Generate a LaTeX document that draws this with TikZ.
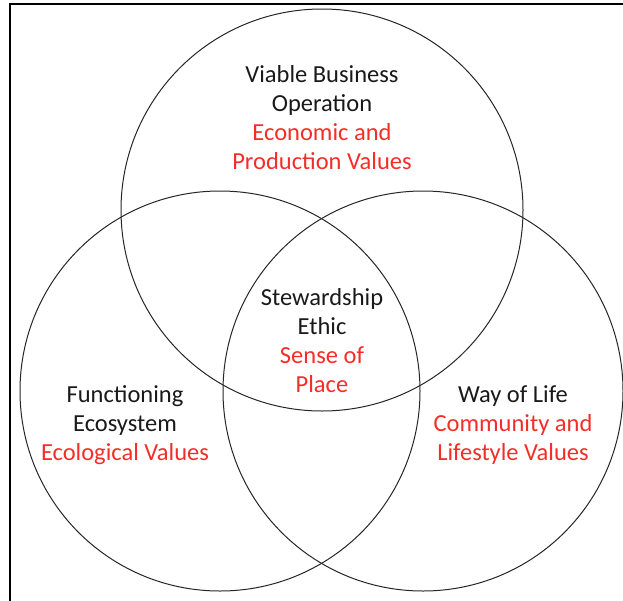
\documentclass[tikz,border=0pt]{standalone}
\usepackage{fontspec}
\setmainfont{Carlito}
\definecolor{valred}{RGB}{245,45,40}
\tikzset{
  ring/.style={draw=black!85, line width=1pt, circle, inner sep=0pt, outer sep=0pt, minimum size=#1},
  label/.style={align=center, font=\fontsize{24.5}{29}\selectfont, text=black!90}
}
\begin{document}
\begin{tikzpicture}[x=1pt, y=-1pt]
%			\draw[help lines] (0,0) grid (623,600);
			\useasboundingbox (0,0) rectangle (623,600);
			\begin{scope}
				\clip (0,0) rectangle (623,600);
				\draw[line width=1.6pt] (10,4) rectangle (640,620);
			\end{scope}
			\node[ring=402] (business) at (322,210) {};
			\node[ring=400] (ecosystem) at (220,391) {};
			\node[ring=400] (life) at (423,391) {};
			\node[label] (business_txt) at (322,118) {Viable Business \\ Operation \\ \textcolor{valred}{Economic and} \\ \textcolor{valred}{Production Values}};
			\node[label] (ethic_txt) at (322,341) {Stewardship \\ Ethic \\ \textcolor{valred}{Sense of} \\ \textcolor{valred}{Place}};
			\node[label] (ecosystem_txt) at (125,425) {Functioning \\ Ecosystem \\ \textcolor{valred}{Ecological Values}};
			\node[label] (life_txt) at (513,425) {Way of Life \\ \textcolor{valred}{Community and} \\ \textcolor{valred}{Lifestyle Values}};
		\end{tikzpicture}
\end{document}
